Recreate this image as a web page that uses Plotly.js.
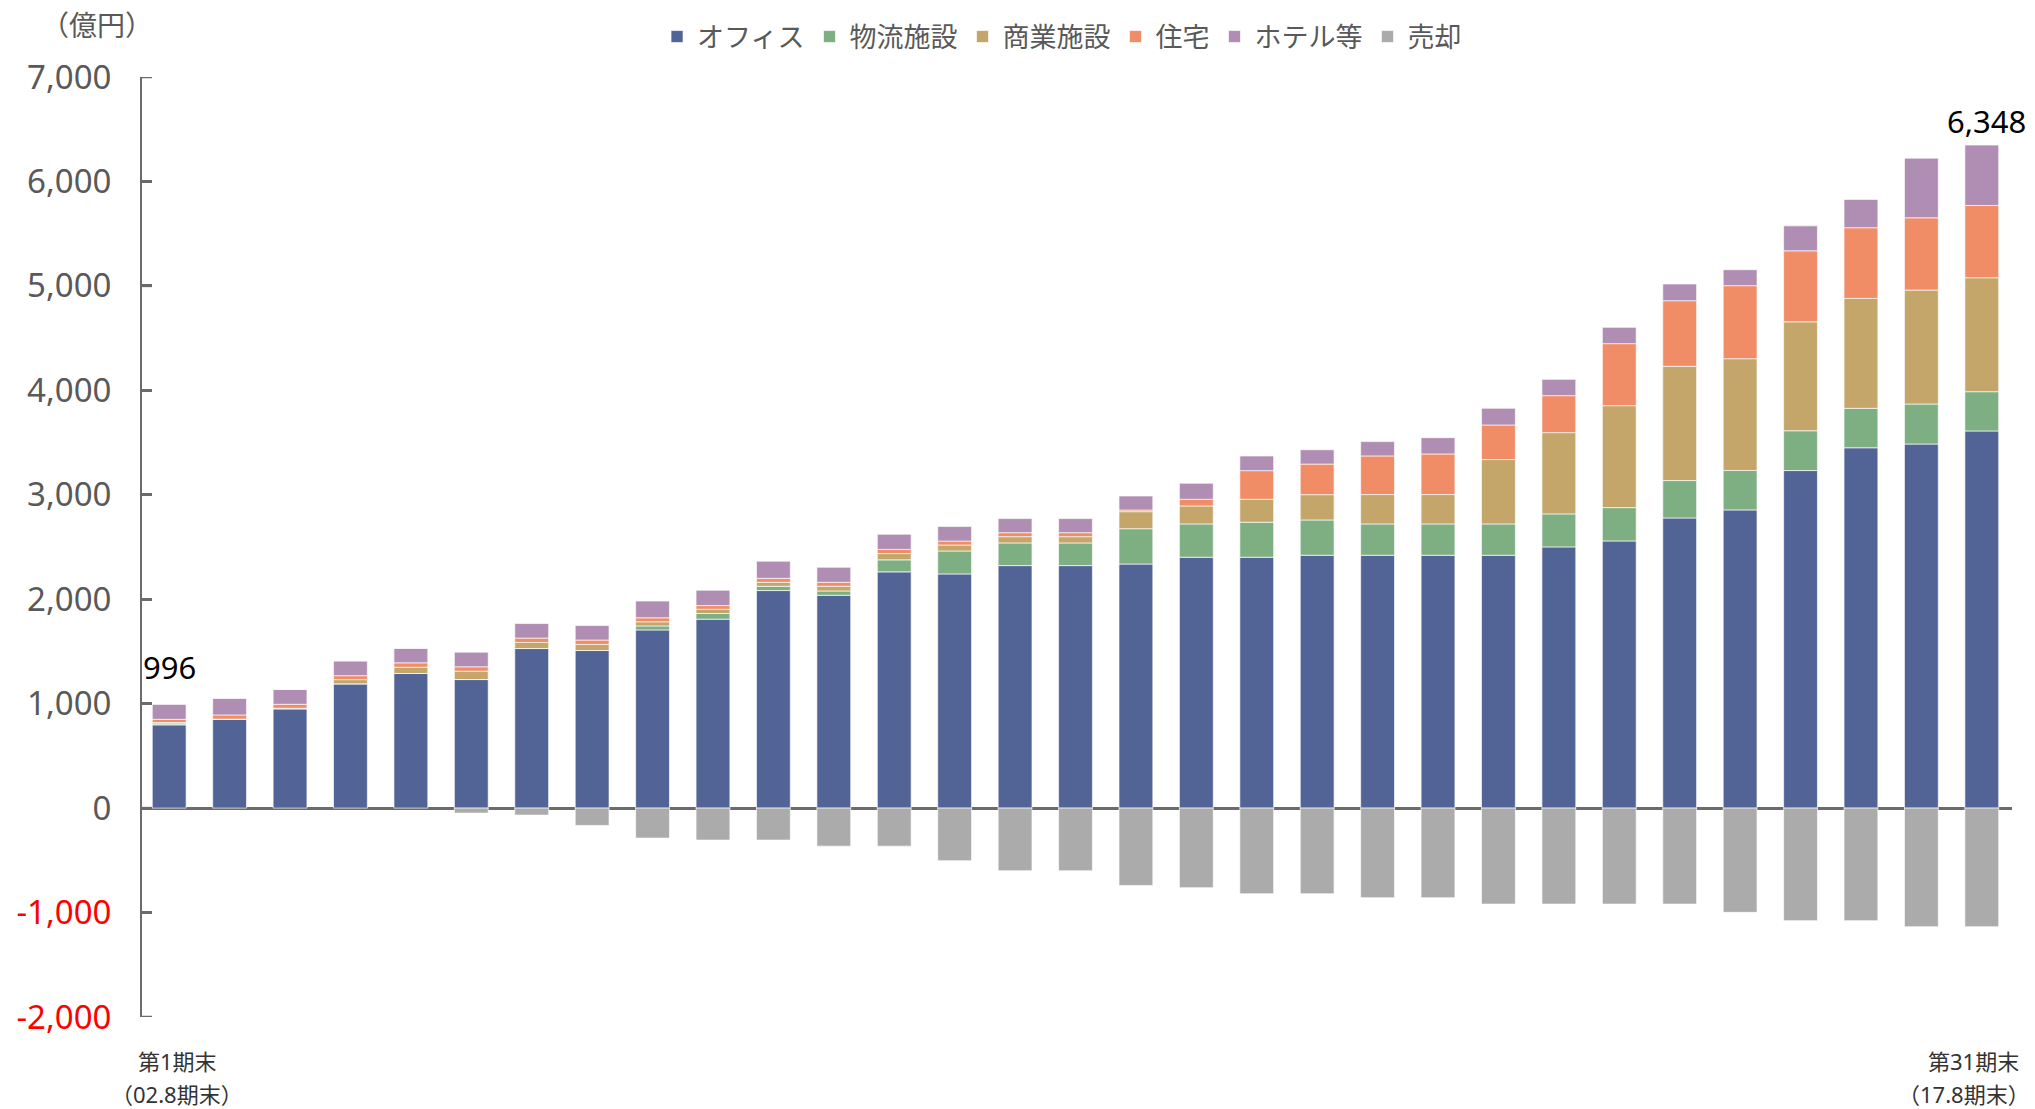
<!DOCTYPE html>
<html>
<head>
<meta charset="utf-8">
<script src="https://cdn.plot.ly/plotly-3.0.1.min.js"></script>
<style>
  html, body { margin: 0; padding: 0; background: #ffffff; }
  #chart { width: 2035px; height: 1109px; }
</style>
</head>
<body>
<div id="chart"></div>
<script>
// ---- data (億円) ----
const periods = Array.from({length: 31}, (_, i) => '第' + (i + 1) + '期末');
const periodDates = ['（02.8期末）', '（17.8期末）'];   // first / last period end
const seriesNames = ['オフィス', '物流施設', '商業施設', '住宅', 'ホテル等', '売却'];

const office      = [797, 852, 951, 1190, 1289, 1231, 1528, 1509, 1706, 1809, 2083, 2038, 2262, 2242, 2322, 2322,
                     2337, 2402, 2402, 2421, 2421, 2421, 2421, 2501, 2558, 2778, 2855, 3232, 3450, 3486, 3611];
const logistics   = [10, 0, 0, 0, 0, 0, 0, 0, 38, 54, 41, 41, 115, 220, 217, 217,
                     338, 319, 335, 338, 300, 300, 300, 316, 319, 358, 378, 381, 378, 383, 376];
const retail      = [13, 0, 5, 40, 60, 80, 58, 58, 40, 41, 38, 45, 60, 57, 60, 60,
                     163, 172, 220, 242, 281, 281, 616, 778, 976, 1094, 1070, 1043, 1052, 1091, 1091];
const residential = [30, 40, 38, 38, 42, 42, 42, 42, 38, 35, 38, 38, 40, 38, 38, 38,
                     16, 64, 274, 293, 370, 389, 331, 354, 594, 628, 699, 680, 677, 692, 692];
const hotel       = [146, 161, 143, 142, 140, 140, 139, 139, 160, 147, 164, 144, 145, 140, 135, 135,
                     134, 153, 140, 137, 137, 156, 160, 156, 156, 160, 153, 239, 271, 571, 578];
const sold        = [0, 0, 0, 0, 0, -48, -67, -166, -287, -306, -306, -364, -364, -504, -600, -600,
                     -740, -762, -820, -820, -858, -858, -919, -919, -919, -919, -998, -1078, -1078, -1136, -1136];

const totalLabels = ['996', '6,348'];   // labels on first / last bar
const yTickVals   = [-2000, -1000, 0, 1000, 2000, 3000, 4000, 5000, 6000, 7000];
const yTickLabels = ['-2,000', '-1,000', '0', '1,000', '2,000', '3,000', '4,000', '5,000', '6,000', '7,000'];

// ---- styling ----
const colors = ['#526496', '#7EAF83', '#C4A66A', '#F08C66', '#B08EB3', '#ABABAB'];
const FONT = 'Noto Sans, Noto Sans CJK JP, sans-serif';
const AXIS_GREY = '#6b6b6b';
const seriesData = [office, logistics, retail, residential, hotel, sold];

const traces = seriesData.map((vals, k) => ({
  type: 'bar',
  name: seriesNames[k],
  x: periods,
  y: vals,
  marker: { color: colors[k], line: { color: 'rgba(255,255,255,0.65)', width: 1 } },
  hoverinfo: 'x+y+name'
}));

const ticktext = yTickLabels.map((t, i) =>
  yTickVals[i] < 0 ? '<span style="color:#FF0000">' + t + '</span>' : t);

const firstTotal = seriesData.slice(0, 5).reduce((s, arr) => s + arr[0], 0);
const lastTotal  = seriesData.slice(0, 5).reduce((s, arr) => s + arr[30], 0);

const PLOT_BOTTOM = 1017.5, PLOT_H = 940, PLOT_W = 2035 - 142 - 23;
const py = px => (PLOT_BOTTOM - px) / PLOT_H;   // pixel row -> paper y

// small inward tick marks on the value axis
const tickShapes = yTickVals.map(v => ({
  type: 'line', xref: 'paper', yref: 'y',
  x0: 0, x1: 10 / PLOT_W, y0: v, y1: v,
  line: { color: AXIS_GREY, width: 2.5 }, layer: 'above'
}));

const layout = {
  width: 2035,
  height: 1109,
  margin: { l: 142, r: 23, t: 77, b: 92, pad: 0 },
  paper_bgcolor: '#ffffff',
  plot_bgcolor: '#ffffff',
  barmode: 'relative',
  bargap: 0.44,
  font: { family: FONT, color: '#595959' },
  showlegend: true,
  legend: {
    orientation: 'h',
    traceorder: 'normal',
    xref: 'paper', x: 0.492, xanchor: 'center',
    yref: 'container', y: 1 - 37 / 1109, yanchor: 'middle',
    font: { family: FONT, size: 27, color: '#595959' },
    itemwidth: 30,
    bgcolor: 'rgba(0,0,0,0)'
  },
  xaxis: {
    type: 'category',
    range: [-0.45, 30.5],
    showticklabels: false,
    ticks: '',
    showline: false,
    showgrid: false,
    zeroline: false,
    fixedrange: true
  },
  yaxis: {
    range: [-2000, 7000],
    tickmode: 'array',
    tickvals: yTickVals,
    ticktext: ticktext,
    tickfont: { family: FONT, size: 33, color: '#595959' },
    ticks: 'inside',
    ticklen: 10,
    tickwidth: 2.5,
    tickcolor: AXIS_GREY,
    ticklabelstandoff: 22,
    showline: true,
    linecolor: AXIS_GREY,
    linewidth: 2,
    showgrid: false,
    zeroline: true,
    zerolinecolor: AXIS_GREY,
    zerolinewidth: 3,
    fixedrange: true
  },
  shapes: tickShapes,
  annotations: [
    { text: '（億円）', xref: 'paper', yref: 'paper', x: -0.024, y: py(26),
      xanchor: 'center', yanchor: 'middle', showarrow: false,
      font: { family: FONT, size: 28, color: '#595959' } },
    { text: totalLabels[0], xref: 'x', yref: 'y', x: periods[0], y: firstTotal,
      xanchor: 'center', yanchor: 'bottom', yshift: 14, showarrow: false,
      font: { family: FONT, size: 31, color: '#000000' } },
    { text: totalLabels[1], xref: 'x', yref: 'y', x: periods[30], y: lastTotal,
      xanchor: 'center', yanchor: 'bottom', yshift: 1, xshift: 5, showarrow: false,
      font: { family: FONT, size: 31, color: '#000000' } },
    { text: periods[0], xref: 'x', yref: 'paper', x: periods[0], y: py(1061),
      xanchor: 'center', yanchor: 'middle', xshift: 8, showarrow: false,
      font: { family: FONT, size: 22, color: '#333333' } },
    { text: periodDates[0], xref: 'x', yref: 'paper', x: periods[0], y: py(1094),
      xanchor: 'center', yanchor: 'middle', xshift: 8, showarrow: false,
      font: { family: FONT, size: 22, color: '#333333' } },
    { text: periods[30], xref: 'x', yref: 'paper', x: periods[30], y: py(1061),
      xanchor: 'center', yanchor: 'middle', xshift: -8, showarrow: false,
      font: { family: FONT, size: 22, color: '#333333' } },
    { text: periodDates[1], xref: 'x', yref: 'paper', x: periods[30], y: py(1094),
      xanchor: 'right', yanchor: 'middle', xshift: 50, showarrow: false,
      font: { family: FONT, size: 22, color: '#333333' } }
  ]
};

Plotly.newPlot('chart', traces, layout, { displayModeBar: false, responsive: false });
</script>
</body>
</html>
